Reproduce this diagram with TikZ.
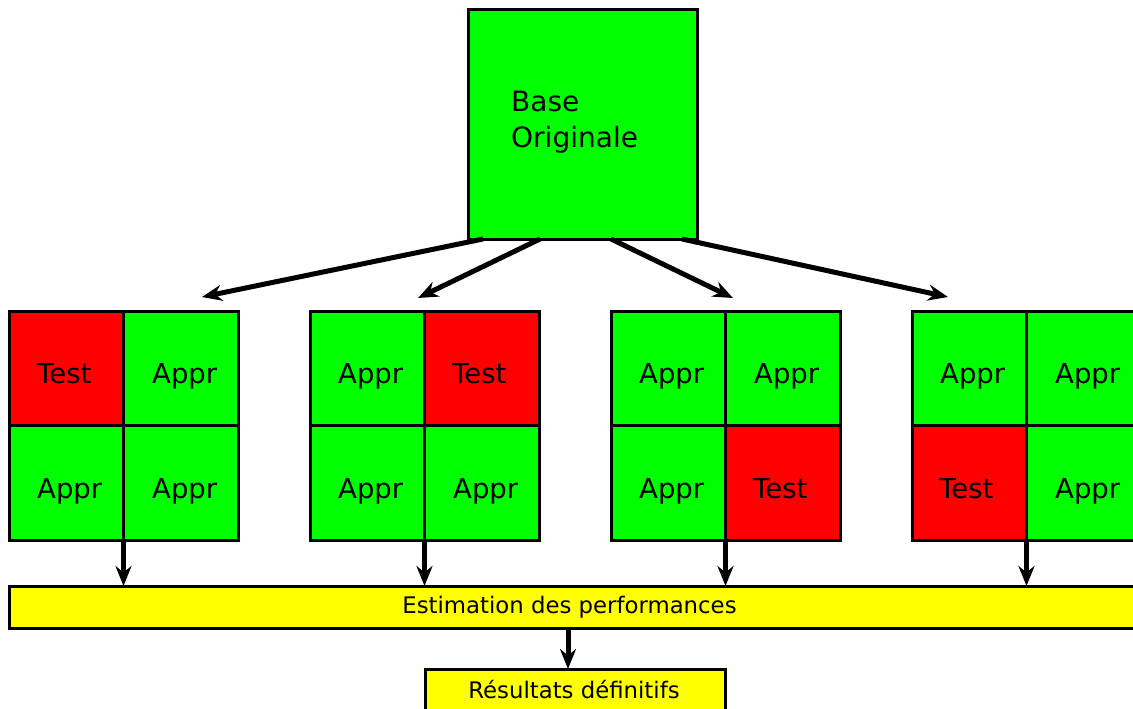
\documentclass[tikz,border=0pt]{standalone}
\usepackage{fontspec}
\setmainfont{DejaVu Sans}
\usetikzlibrary{arrows.meta}
\definecolor{vert}{RGB}{0,255,0}
\definecolor{rouge}{RGB}{255,0,0}
\definecolor{jaune}{RGB}{255,255,0}
\tikzset{
  box/.style={draw=black, line width=3pt, inner sep=0pt, outer sep=0pt},
  cell/.style={box, minimum width=114.5pt, minimum height=114.5pt},
  appr/.style={cell, fill=vert},
  testc/.style={cell, fill=rouge},
  lab/.style={anchor=base west, inner sep=0pt, font=\fontsize{27.5}{30}\selectfont},
  smalltxt/.style={inner sep=0pt, font=\fontsize{22.8}{26}\selectfont},
  conn/.style={line width=5pt, -{Stealth[length=20pt,width=16pt,inset=6.5pt]}},
}
\begin{document}
\begin{tikzpicture}[x=1pt,y=-1pt]
\useasboundingbox (0,0) rectangle (1133,709);
% base
\node[box, fill=vert, minimum width=229pt, minimum height=229pt] (base) at (582.5,124.5) {};
\node[anchor=north west, inner sep=0pt, align=left, font=\fontsize{28}{36}\selectfont] (basetxt) at (511,91) {Base\\Originale};
% grid 1
\node[testc] (g1a) at (66.25,368.25) {};
\node[appr] (g1b) at (180.75,368.25) {};
\node[appr] (g1c) at (66.25,482.75) {};
\node[appr] (g1d) at (180.75,482.75) {};
% grid 2
\node[appr] (g2a) at (367.25,368.25) {};
\node[testc] (g2b) at (481.75,368.25) {};
\node[appr] (g2c) at (367.25,482.75) {};
\node[appr] (g2d) at (481.75,482.75) {};
% grid 3
\node[appr] (g3a) at (668.25,368.25) {};
\node[appr] (g3b) at (782.75,368.25) {};
\node[appr] (g3c) at (668.25,482.75) {};
\node[testc] (g3d) at (782.75,482.75) {};
% grid 4
\node[appr] (g4a) at (969.25,368.25) {};
\node[appr] (g4b) at (1083.75,368.25) {};
\node[testc] (g4c) at (969.25,482.75) {};
\node[appr] (g4d) at (1083.75,482.75) {};
% labels
\node[lab] (l1a) at (37,383) {Test};
\node[lab] (l1b) at (152,383) {Appr};
\node[lab] (l1c) at (37,498) {Appr};
\node[lab] (l1d) at (152,498) {Appr};
\node[lab] (l2a) at (338,383) {Appr};
\node[lab] (l2b) at (452,383) {Test};
\node[lab] (l2c) at (338,498) {Appr};
\node[lab] (l2d) at (453,498) {Appr};
\node[lab] (l3a) at (639,383) {Appr};
\node[lab] (l3b) at (754,383) {Appr};
\node[lab] (l3c) at (639,498) {Appr};
\node[lab] (l3d) at (753,498) {Test};
\node[lab] (l4a) at (940,383) {Appr};
\node[lab] (l4b) at (1055,383) {Appr};
\node[lab] (l4c) at (939,498) {Test};
\node[lab] (l4d) at (1055,498) {Appr};
% estimation bar
\node[box, fill=jaune, minimum width=1132pt, minimum height=42pt] (est) at (575,607) {};
\node[smalltxt] (esttxt) at (569.5,607) {Estimation des performances};
% result
\node[box, fill=jaune, minimum width=300pt, minimum height=44pt] (res) at (575,691) {};
\node[smalltxt] (restxt) at (574,690) {Résultats définitifs};
% arrows from base
\coordinate (t1) at (202,297);
\coordinate (t2) at (418,298);
\coordinate (t3) at (733,298);
\coordinate (t4) at (948,297);
\draw[conn] ([xshift=-99.5pt]base.south) -- (t1);
\draw[conn] ([xshift=-42.5pt]base.south) -- (t2);
\draw[conn] ([xshift=28.5pt]base.south) -- (t3);
\draw[conn] ([xshift=99.5pt]base.south) -- (t4);
% arrows to bar
\draw[conn] (g1c.south east) -- (g1c.south east |- est.north);
\draw[conn] (g2c.south east) -- (g2c.south east |- est.north);
\draw[conn] (g3c.south east) -- (g3c.south east |- est.north);
\draw[conn] (g4c.south east) -- (g4c.south east |- est.north);
\draw[conn] ([xshift=-7pt]est.south) -- ([xshift=-7pt]res.north);
\end{tikzpicture}
\end{document}
